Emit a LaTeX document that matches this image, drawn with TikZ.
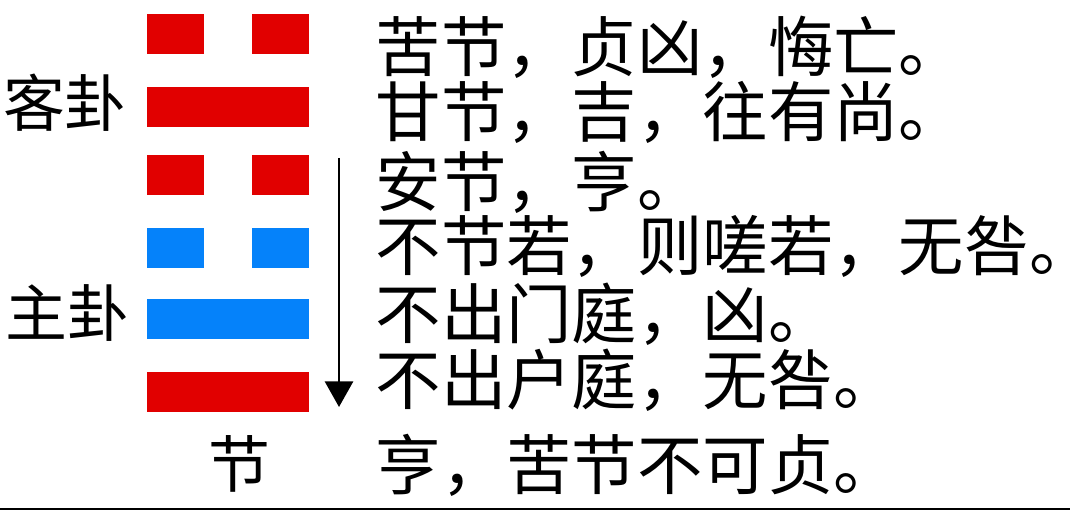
\documentclass[tikz,border=0pt]{standalone}
\usepackage{fontspec}
\newfontfamily\cjk{Noto Sans CJK SC}
\usetikzlibrary{arrows.meta}
\definecolor{yaored}{RGB}{225,0,0}
\definecolor{yaoblue}{RGB}{5,130,250}
\tikzset{
  ci/.style={anchor=west, inner sep=0pt, font=\cjk\fontsize{18.6}{21}\selectfont},
  guaname/.style={inner sep=0pt, font=\cjk\fontsize{17.6}{20}\selectfont},
}
% one line of the hexagram, #1 colour, #2 top edge
\newcommand*{\yang}[2]{\fill[#1] (147,#2) rectangle (309,#2+40);}
\newcommand*{\yin}[2]{\fill[#1] (147,#2) rectangle (204,#2+40);
  \fill[#1] (252,#2) rectangle (309,#2+40);}
% full stop that keeps only the inked half of its cell
\newcommand*{\halfstop}{\makebox[0.5em][l]{。}}

\begin{document}
\begin{tikzpicture}[x=0.01cm,y=-0.01cm]
    \useasboundingbox (0,0) rectangle (1070,510);
    \yin{yaored}{14}
    \yang{yaored}{87}
    \yin{yaored}{155}
    \yin{yaoblue}{228}
    \yang{yaoblue}{299}
    \yang{yaored}{372}
    \node[guaname] (ke) at (65,103) {客卦};
    \node[guaname] (zhu) at (67,313) {主卦};
    \node[guaname] (jie) at (239,464) {节};
    \coordinate (from) at (339,158);
    \coordinate (to) at (339,407);
    \draw[line width=0.75pt, -{Triangle[width=8pt,length=7.3pt]}] (from) -- (to);
    \node[ci] (l1) at (375,47) {苦节，贞凶，悔亡\halfstop};
    \node[ci] (l2) at (375,112) {甘节，吉，往有尚\halfstop};
    \node[ci] (l3) at (375,182) {安节，亨\halfstop};
    \node[ci] (l4) at (375,246) {不节若，则嗟若，无咎\halfstop};
    \node[ci] (l5) at (375,314) {不出门庭，凶\halfstop};
    \node[ci] (l6) at (375,380) {不出户庭，无咎\halfstop};
    \node[ci] (l7) at (375,465) {亨，苦节不可贞\halfstop};
    \draw[line width=0.45pt] (0,509) -- (1070,509);
\end{tikzpicture}
\end{document}
